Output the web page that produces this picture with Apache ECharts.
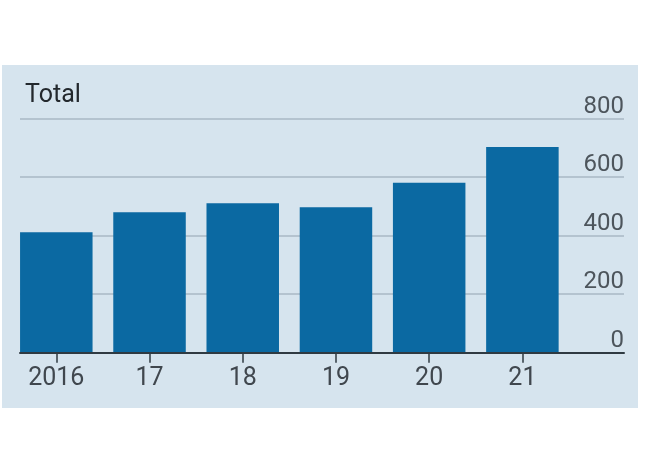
<!DOCTYPE html>
<html>
<head>
<meta charset="utf-8">
<script src="https://cdn.jsdelivr.net/npm/echarts@6/dist/echarts.min.js"></script>
<style>
html,body{margin:0;padding:0;background:#ffffff;}
#chart{width:650px;height:468px;}
</style>
</head>
<body>
<div id="chart"></div>
<script>
var categories = ['2016', '17', '18', '19', '20', '21'];
var totals = [412, 480, 511, 497, 581, 703];
var yMin = 0, yMax = 800, yStep = 200;

var FONT = 'Liberation Sans Narrow, Roboto, sans-serif';
var chart = echarts.init(document.getElementById('chart'), null, {renderer: 'canvas'});
var option = {
  animation: false,
  backgroundColor: '#ffffff',
  graphic: [{
    type: 'rect', z: -10, silent: true,
    shape: {x: 2, y: 65, width: 636, height: 343},
    style: {fill: '#d6e4ee'}
  }],
  title: {
    text: 'Total', left: 20, top: 78,
    textStyle: {fontFamily: 'Roboto, sans-serif', fontSize: 25, fontWeight: 'normal', color: '#23282d'}
  },
  grid: [
    {left: 9.7, width: 559.3, top: 118.7, height: 234},
    {left: 20, width: 604, top: 118.7, height: 234}
  ],
  xAxis: [
    {
      type: 'category', gridIndex: 0, data: categories,
      axisLine: {show: false},
      axisTick: {show: true, alignWithLabel: true, length: 10, lineStyle: {color: '#2f3a42', width: 1.5}},
      axisLabel: {margin: 14, fontFamily: FONT, fontSize: 25, color: '#40474e'}
    },
    {
      type: 'value', gridIndex: 1, min: 0, max: 1, z: 5,
      axisLine: {show: true, onZero: false, lineStyle: {color: '#2f3a42', width: 2}},
      axisTick: {show: false}, axisLabel: {show: false}, splitLine: {show: false}
    }
  ],
  yAxis: [
    {type: 'value', gridIndex: 0, min: yMin, max: yMax, interval: yStep, show: false},
    {
      type: 'value', gridIndex: 1, position: 'right', min: yMin, max: yMax, interval: yStep,
      axisLine: {show: false}, axisTick: {show: false},
      splitLine: {show: true, lineStyle: {color: '#a8b9c5', width: 1.5}},
      axisLabel: {inside: true, margin: 0, verticalAlign: 'bottom', fontFamily: FONT, fontSize: 24, color: '#4d555c'}
    }
  ],
  series: [{
    type: 'bar', xAxisIndex: 0, yAxisIndex: 0,
    data: totals, barWidth: 72.5,
    itemStyle: {color: '#0b69a2'}
  }]
};
chart.setOption(option);
</script>
</body>
</html>
